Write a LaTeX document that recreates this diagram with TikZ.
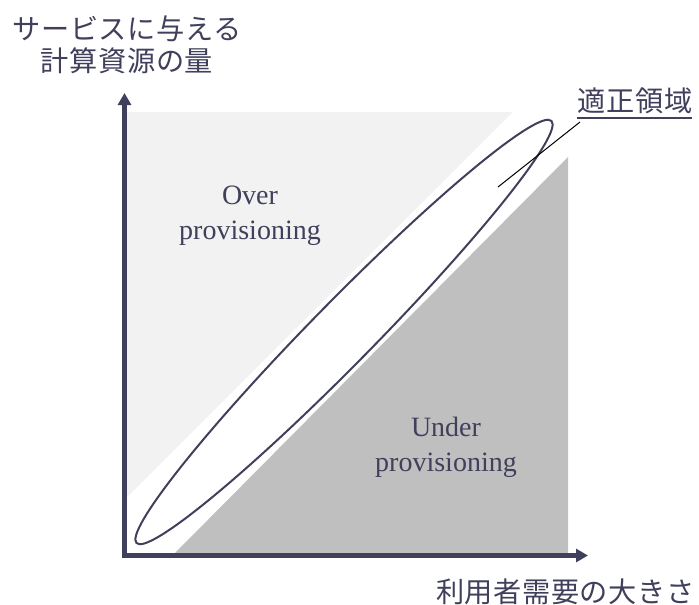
\documentclass[tikz,border=0pt]{standalone}
\usepackage{fontspec}
\setmainfont{Liberation Serif}
\newfontfamily\jp[LetterSpace=2]{Noto Sans CJK JP}
\usetikzlibrary{arrows.meta}
\definecolor{slate}{RGB}{64,64,92}
\definecolor{lightg}{RGB}{242,242,242}
\definecolor{darkg}{RGB}{191,191,191}
\begin{document}
\begin{tikzpicture}[x=1pt,y=-1pt,
  jptext/.style={font=\jp\fontsize{28.2}{32}\selectfont, text=slate, inner sep=0pt, align=center},
  entext/.style={font=\fontsize{28}{35}\selectfont, text=slate, inner sep=0pt, align=center},
  axisline/.style={draw=slate, line width=5pt, line join=miter, {Triangle[length=12pt,width=13pt]}-{Triangle[length=12pt,width=13pt]}},
  zone/.style={draw=slate, line width=2pt},
  leader/.style={draw=black, line width=1pt}]
\useasboundingbox (0,0) rectangle (699,605);
% regions
\fill[lightg] (127,112) -- (513,112) -- (127,497) -- cycle;
\fill[darkg] (175,553) -- (568,553) -- (568,157) -- cycle;
% ellipse (appropriate zone)
\draw[zone, rotate around={45.5:(344,332)}] (344,332) ellipse [x radius=296, y radius=31];
% axes
\coordinate (ytip) at (124.5,93);
\coordinate (origin) at (124.5,555.5);
\coordinate (xtip) at (588,555.5);
\draw[axisline] (ytip) -- (origin) -- (xtip);
% labels
\node[jptext] (ylab) at (127,45) {サービスに与える\\計算資源の量};
\node[jptext, anchor=west] (xlab) at (436,592) {利用者需要の大きさ};
\node[entext] (over) at (250,216) {Over\\provisioning};
\node[entext] (under) at (446,447) {Under\\provisioning};
\node[jptext] (lbl) at (635,101) {適正領域};
\coordinate (ulL) at (577,118);
\coordinate (ulR) at (692,118);
\draw[slate, line width=1.5pt] (ulL) -- (ulR);
\coordinate (leadA) at (580,122);
\coordinate (leadB) at (498,187);
\draw[leader] (leadA) -- (leadB);
\end{tikzpicture}
\end{document}
